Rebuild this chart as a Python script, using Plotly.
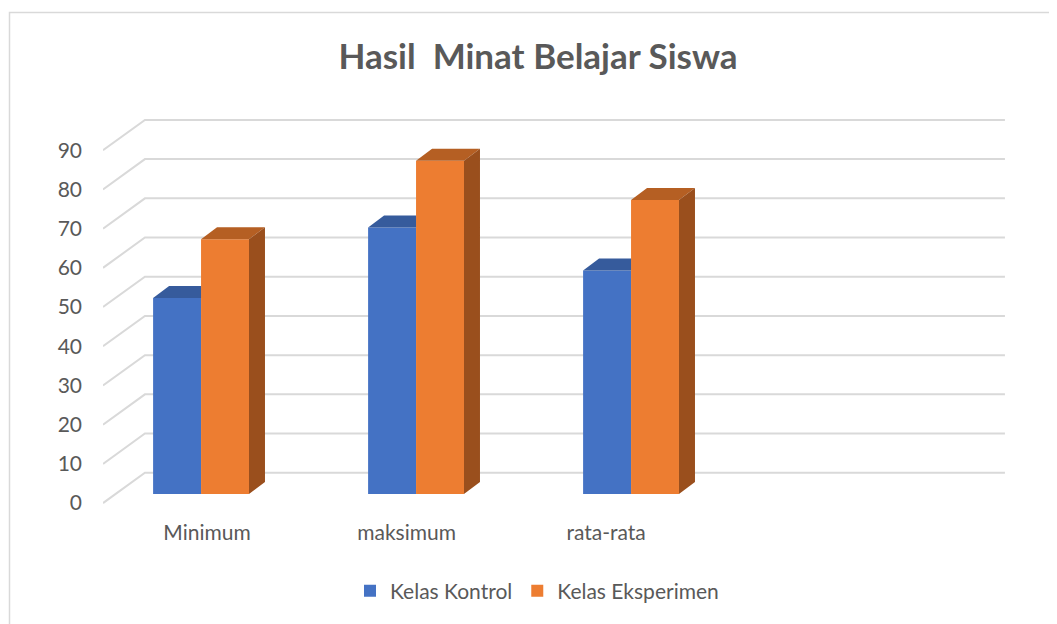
import plotly.graph_objects as go

# ---- data ----
categories = ["Minimum", "maksimum", "rata-rata"]
series_names = ["Kelas Kontrol", "Kelas Eksperimen"]
kontrol = [50, 68, 57]
eksperimen = [65, 85, 75]
y_ticks = [0, 10, 20, 30, 40, 50, 60, 70, 80, 90]

# ---- styling / geometry (pseudo-3D oblique projection) ----
FRONT_FACE = ["#4472C4", "#ED7D31"]
TOP_FACE = ["#365B9C", "#B55F23"]
SIDE_FACE = ["#2F5597", "#9A4F1D"]
GRID = "#D9D9D9"
TXT = "#595959"
FONT = "Lato"

N_SLOTS = 4
SLOT_L, SLOT_R = -0.5, N_SLOTS - 0.5
WALL_DX, WALL_DY = 0.195, 7.73       # back wall offset (x units, value units)
BAR_W = 0.223
BAR_OFF = [-0.267, -0.044]
BASE = 2.3
BAR_DX, BAR_DY = 0.0744, 3.06
LABEL_STEP, LABEL_SHIFT = 0.928, -0.016

# page body has an 8px margin in the browser: compensate
OFF = 8
ML, MT = 103 - OFF, 111 - OFF
PW, PH = 903, 396
W, H = 1057, 624

fig = go.Figure()

# back-wall gridlines + left-wall diagonals (from ticks)
shapes = []
for v in y_ticks:
    path = (f"M {SLOT_L},{v} L {SLOT_L + WALL_DX},{v + WALL_DY} "
            f"L {SLOT_R + WALL_DX},{v + WALL_DY}")
    shapes.append(dict(type="path", path=path, xref="x", yref="y",
                       line=dict(color=GRID, width=2), layer="below"))

# chart border
shapes.append(dict(type="rect", xref="paper", yref="paper",
                   x0=(9.5 - OFF - ML) / PW, x1=1.1,
                   y0=-0.4, y1=(MT + PH - (12.5 - OFF)) / PH,
                   line=dict(color=GRID, width=1.5), layer="below"))

series = [kontrol, eksperimen]
xs_pos = list(range(len(categories)))

# front faces as bars
for j, vals in enumerate(series):
    fig.add_trace(go.Bar(
        x=xs_pos, y=vals, base=BASE, width=BAR_W, offset=BAR_OFF[j],
        name=series_names[j], marker=dict(color=FRONT_FACE[j], line=dict(width=0)),
        hoverinfo="skip"))

# top and side faces
for j, vals in enumerate(series):
    tx, ty, sx, sy = [], [], [], []
    for i, v in enumerate(vals):
        xl = xs_pos[i] + BAR_OFF[j]
        xr = xl + BAR_W
        top = BASE + v
        if j == 0:
            tx += [xl, xl + BAR_DX, xr, xr, xl, None]
        else:
            tx += [xl, xl + BAR_DX, xr + BAR_DX, xr, xl, None]
        ty += [top, top + BAR_DY, top + BAR_DY, top, top, None]
        if j == len(series) - 1:
            sx += [xr, xr + BAR_DX, xr + BAR_DX, xr, xr, None]
            sy += [BASE, BASE + BAR_DY, top + BAR_DY, top, BASE, None]
    fig.add_trace(go.Scatter(x=tx, y=ty, mode="lines", fill="toself",
                             fillcolor=TOP_FACE[j], line=dict(width=0, color=TOP_FACE[j]),
                             showlegend=False, hoverinfo="skip"))
    if sx:
        fig.add_trace(go.Scatter(x=sx, y=sy, mode="lines", fill="toself",
                                 fillcolor=SIDE_FACE[j], line=dict(width=0, color=SIDE_FACE[j]),
                                 showlegend=False, hoverinfo="skip"))

label_pos = [i * LABEL_STEP + LABEL_SHIFT for i in xs_pos]

fig.update_layout(
    width=W, height=H,
    margin=dict(l=ML, r=W - ML - PW, t=MT, b=H - MT - PH),
    paper_bgcolor="white", plot_bgcolor="white",
    barmode="overlay",
    font=dict(family=FONT, color=TXT, size=21),
    title=dict(text="<b>Hasil  Minat Belajar Siswa</b>", x=(538 - OFF) / W, xanchor="center",
               y=1 - (57 - OFF) / H, yanchor="middle", xref="container", yref="container",
               font=dict(family=FONT, size=35, color=TXT)),
    showlegend=True,
    legend=dict(orientation="h", xref="container", yref="container",
                x=(537 - OFF) / W, xanchor="center", y=1 - (591 - OFF) / H, yanchor="middle",
                font=dict(family=FONT, size=21, color=TXT)),
    shapes=shapes,
    xaxis=dict(range=[SLOT_L, SLOT_R + 0.2], showgrid=False, zeroline=False, showline=False,
               tickvals=label_pos, ticktext=categories, ticks="", ticklabelstandoff=11,
               fixedrange=True),
    yaxis=dict(range=[-1, 100], showgrid=False, zeroline=False, showline=False,
               tickvals=y_ticks, ticks="", ticklabelstandoff=20, fixedrange=True),
)

fig.write_html("out.html")
